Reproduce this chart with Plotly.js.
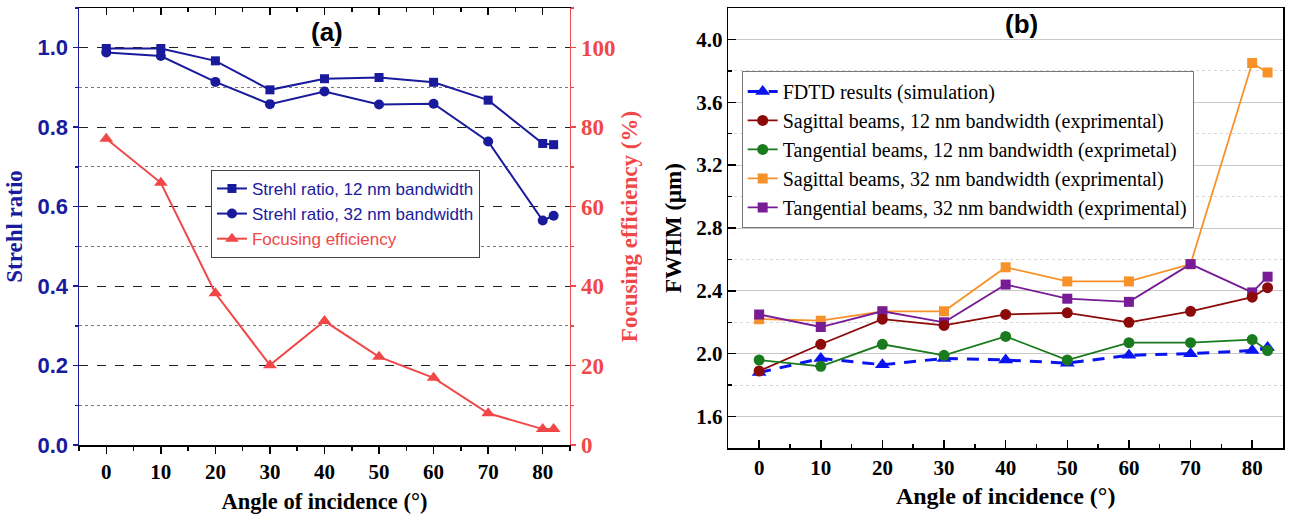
<!DOCTYPE html>
<html>
<head>
<meta charset="utf-8">
<script src="https://cdn.plot.ly/plotly-3.0.1.min.js"></script>
<style>html,body{margin:0;padding:0;background:#fff;}</style>
</head>
<body>
<div id="chart" style="width:1289px;height:517px;"></div>
<script>
// ---- Panel (a) data ----
const anglesA = [0, 10, 20, 30, 40, 50, 60, 70, 80, 82];
const strehl12 = [0.998, 0.998, 0.967, 0.894, 0.922, 0.925, 0.913, 0.868, 0.759, 0.756];
const strehl32 = [0.988, 0.979, 0.914, 0.858, 0.890, 0.857, 0.859, 0.764, 0.565, 0.577];
const focusEff = [77.1, 66.0, 38.2, 20.1, 31.2, 22.2, 16.9, 8.0, 4.0, 4.0];

// ---- Panel (b) data ----
const anglesB = [0, 10, 20, 30, 40, 50, 60, 70, 80, 82.5];
const fdtd  = [1.88, 1.97, 1.93, 1.97, 1.96, 1.94, 1.99, 2.00, 2.02, 2.04];
const sag12 = [1.89, 2.06, 2.22, 2.18, 2.25, 2.26, 2.20, 2.27, 2.36, 2.42];
const tan12 = [1.96, 1.92, 2.06, 1.99, 2.11, 1.96, 2.07, 2.07, 2.09, 2.02];
const sag32 = [2.22, 2.21, 2.27, 2.27, 2.55, 2.46, 2.46, 2.57, 3.85, 3.79];
const tan32 = [2.25, 2.17, 2.27, 2.20, 2.44, 2.35, 2.33, 2.57, 2.39, 2.49];

const namesA = ['Strehl ratio, 12 nm bandwidth', 'Strehl ratio, 32 nm bandwidth', 'Focusing efficiency'];
const namesB = ['FDTD results (simulation)',
  'Sagittal beams, 12 nm bandwidth (exprimental)',
  'Tangential beams, 12 nm bandwidth (exprimetal)',
  'Sagittal beams, 32 nm bandwidth (exprimental)',
  'Tangential beams, 32 nm bandwidth (exprimental)'];

const BLUE = '#1a1a9c';
const RED = '#f04848';
const SERIF = 'Liberation Serif, Times New Roman, serif';
const SANS = 'Liberation Sans, Arial, sans-serif';

const traces = [
  {x: anglesA, y: strehl12, name: namesA[0], mode: 'lines+markers', xaxis: 'x', yaxis: 'y',
   line: {color: BLUE, width: 2}, marker: {symbol: 'square', size: 9, color: BLUE}, legend: 'legend'},
  {x: anglesA, y: strehl32, name: namesA[1], mode: 'lines+markers', xaxis: 'x', yaxis: 'y',
   line: {color: BLUE, width: 2}, marker: {symbol: 'circle', size: 10, color: BLUE}, legend: 'legend'},
  {x: anglesA, y: focusEff, name: '<span style="color:' + RED + '">' + namesA[2] + '</span>', mode: 'lines+markers', xaxis: 'x', yaxis: 'y2',
   line: {color: RED, width: 2}, marker: {symbol: 'triangle-up', size: 12, color: RED}, legend: 'legend'},
  {x: [], y: [], xaxis: 'x3', yaxis: 'y', showlegend: false, hoverinfo: 'skip', mode: 'markers'},

  {x: anglesB, y: fdtd, name: namesB[0], mode: 'lines+markers', xaxis: 'x2', yaxis: 'y3',
   line: {color: '#0a14f0', width: 3, dash: '12px,9px'}, marker: {symbol: 'triangle-up', size: 13, color: '#0a14f0'},
   legend: 'legend2', legendrank: 1},
  {x: anglesB, y: sag32, name: namesB[3], mode: 'lines+markers', xaxis: 'x2', yaxis: 'y3',
   line: {color: '#f7922a', width: 1.8}, marker: {symbol: 'square', size: 10, color: '#f7922a'},
   legend: 'legend2', legendrank: 4},
  {x: anglesB, y: tan32, name: namesB[4], mode: 'lines+markers', xaxis: 'x2', yaxis: 'y3',
   line: {color: '#781c96', width: 1.8}, marker: {symbol: 'square', size: 10, color: '#781c96'},
   legend: 'legend2', legendrank: 5},
  {x: anglesB, y: sag12, name: namesB[1], mode: 'lines+markers', xaxis: 'x2', yaxis: 'y3',
   line: {color: '#8c0a0a', width: 1.8}, marker: {symbol: 'circle', size: 11, color: '#8c0a0a'},
   legend: 'legend2', legendrank: 2},
  {x: anglesB, y: tan12, name: namesB[2], mode: 'lines+markers', xaxis: 'x2', yaxis: 'y3',
   line: {color: '#1a7a1e', width: 1.8}, marker: {symbol: 'circle', size: 11, color: '#1a7a1e'},
   legend: 'legend2', legendrank: 3}
];

const layout = {
  width: 1289, height: 517,
  margin: {l: 79, r: 6, t: 8, b: 69},
  paper_bgcolor: '#fff', plot_bgcolor: '#fff',
  showlegend: true,
  xaxis: {
    domain: [0, 0.4078], anchor: 'y', range: [-5, 85], tick0: 0, dtick: 10,
    ticks: 'outside', ticklen: 7, tickwidth: 1.5, tickcolor: '#000',
    showline: true, linecolor: '#000', linewidth: 1.5, showgrid: false, zeroline: false,
    minor: {dtick: 5, ticks: 'outside', ticklen: 4, tickcolor: '#000', tickwidth: 1.5},
    tickfont: {family: SERIF, size: 21, weight: 'bold', color: '#000'},
    title: {text: 'Angle of incidence (°)', font: {family: SERIF, size: 22.5, weight: 'bold', color: '#000'}, standoff: 10},
    automargin: false
  },
  xaxis3: {
    overlaying: 'x', side: 'top', anchor: 'y', range: [-5, 85], tick0: 0, dtick: 10,
    ticks: 'inside', ticklen: 7, tickwidth: 1.5, tickcolor: '#000',
    showline: true, linecolor: '#000', linewidth: 1.5, showgrid: false, zeroline: false,
    showticklabels: false,
    minor: {dtick: 5, ticks: 'inside', ticklen: 4, tickcolor: '#000', tickwidth: 1.5}
  },
  yaxis: {
    domain: [0.0068, 1], anchor: 'x', range: [0, 1.1], tick0: 0, dtick: 0.2, tickformat: '.1f',
    ticks: 'outside', ticklen: 5, tickwidth: 1.5, tickcolor: BLUE,
    showline: true, linecolor: BLUE, linewidth: 1.5, zeroline: false,
    showgrid: true, gridcolor: '#222', griddash: 'dash', gridwidth: 1,
    minor: {dtick: 0.1, ticks: 'outside', ticklen: 3, tickcolor: BLUE, showgrid: true, gridcolor: '#777', griddash: 'dot', gridwidth: 1},
    tickfont: {family: SANS, size: 22, weight: 'bold', color: BLUE},
    title: {text: 'Strehl ratio', font: {family: SERIF, size: 23, weight: 'bold', color: BLUE}, standoff: 8},
    automargin: false
  },
  yaxis2: {
    overlaying: 'y', side: 'right', anchor: 'x', range: [0, 110], tick0: 0, dtick: 20,
    ticks: 'outside', ticklen: 5, tickwidth: 1.5, tickcolor: RED,
    showline: true, linecolor: RED, linewidth: 1.5, showgrid: false, zeroline: false,
    minor: {dtick: 10, ticks: 'outside', ticklen: 3, tickcolor: RED},
    tickfont: {family: SERIF, size: 23, weight: 'bold', color: RED},
    title: {text: 'Focusing efficiency (%)', font: {family: SERIF, size: 23, weight: 'bold', color: RED}, standoff: 6},
    automargin: false
  },
  xaxis2: {
    domain: [0.5393, 1], anchor: 'y3', range: [-5, 85], tick0: 0, dtick: 10,
    ticks: 'inside', ticklen: 8, tickwidth: 1.5, tickcolor: '#000',
    showline: true, mirror: true, linecolor: '#000', linewidth: 1.5, showgrid: false, zeroline: false,
    minor: {dtick: 5, ticks: 'inside', ticklen: 4, tickcolor: '#000', tickwidth: 1.5},
    tickfont: {family: SERIF, size: 21, weight: 'bold', color: '#000'},
    title: {text: 'Angle of incidence (°)', font: {family: SERIF, size: 24, weight: 'bold', color: '#000'}, standoff: 8},
    automargin: false
  },
  yaxis3: {
    domain: [0, 1], anchor: 'x2', range: [1.4, 4.2], tick0: 0, dtick: 0.4, tickformat: '.1f',
    ticks: 'inside', ticklen: 8, tickwidth: 1.5, tickcolor: '#000',
    showline: true, mirror: true, linecolor: '#000', linewidth: 1.5, zeroline: false,
    showgrid: true, gridcolor: '#c8c8c8', gridwidth: 1,
    minor: {dtick: 0.2, ticks: 'inside', ticklen: 4, tickcolor: '#000', showgrid: true, gridcolor: '#d8d8d8', griddash: 'dot', gridwidth: 1},
    tickfont: {family: SERIF, size: 21, weight: 'bold', color: '#000'},
    title: {text: 'FWHM (μm)', font: {family: SERIF, size: 23, weight: 'bold', color: '#000'}, standoff: 8},
    automargin: false
  },
  legend: {
    x: 0.1096, y: 0.632, xanchor: 'left', yanchor: 'top', xref: 'paper', yref: 'paper',
    bgcolor: '#fff', bordercolor: '#444', borderwidth: 1,
    font: {family: SANS, size: 17, color: BLUE}, tracegroupgap: 0
  },
  legend2: {
    x: 0.5504, y: 0.857, xanchor: 'left', yanchor: 'top', xref: 'paper', yref: 'paper',
    bgcolor: '#fff', bordercolor: '#777', borderwidth: 1, traceorder: 'normal',
    font: {family: SERIF, size: 20, color: '#000'}, tracegroupgap: 0
  },
  annotations: [
    {text: '(a)', x: 0.206, y: 0.945, xref: 'paper', yref: 'paper', xanchor: 'center', yanchor: 'middle', showarrow: false,
     font: {family: SANS, size: 26, weight: 'bold', color: '#000'}},
    {text: '(b)', x: 0.783, y: 0.963, xref: 'paper', yref: 'paper', xanchor: 'center', yanchor: 'middle', showarrow: false,
     font: {family: SANS, size: 26, weight: 'bold', color: '#000'}}
  ]
};

Plotly.newPlot('chart', traces, layout, {displayModeBar: false, staticPlot: true});
</script>
</body>
</html>
